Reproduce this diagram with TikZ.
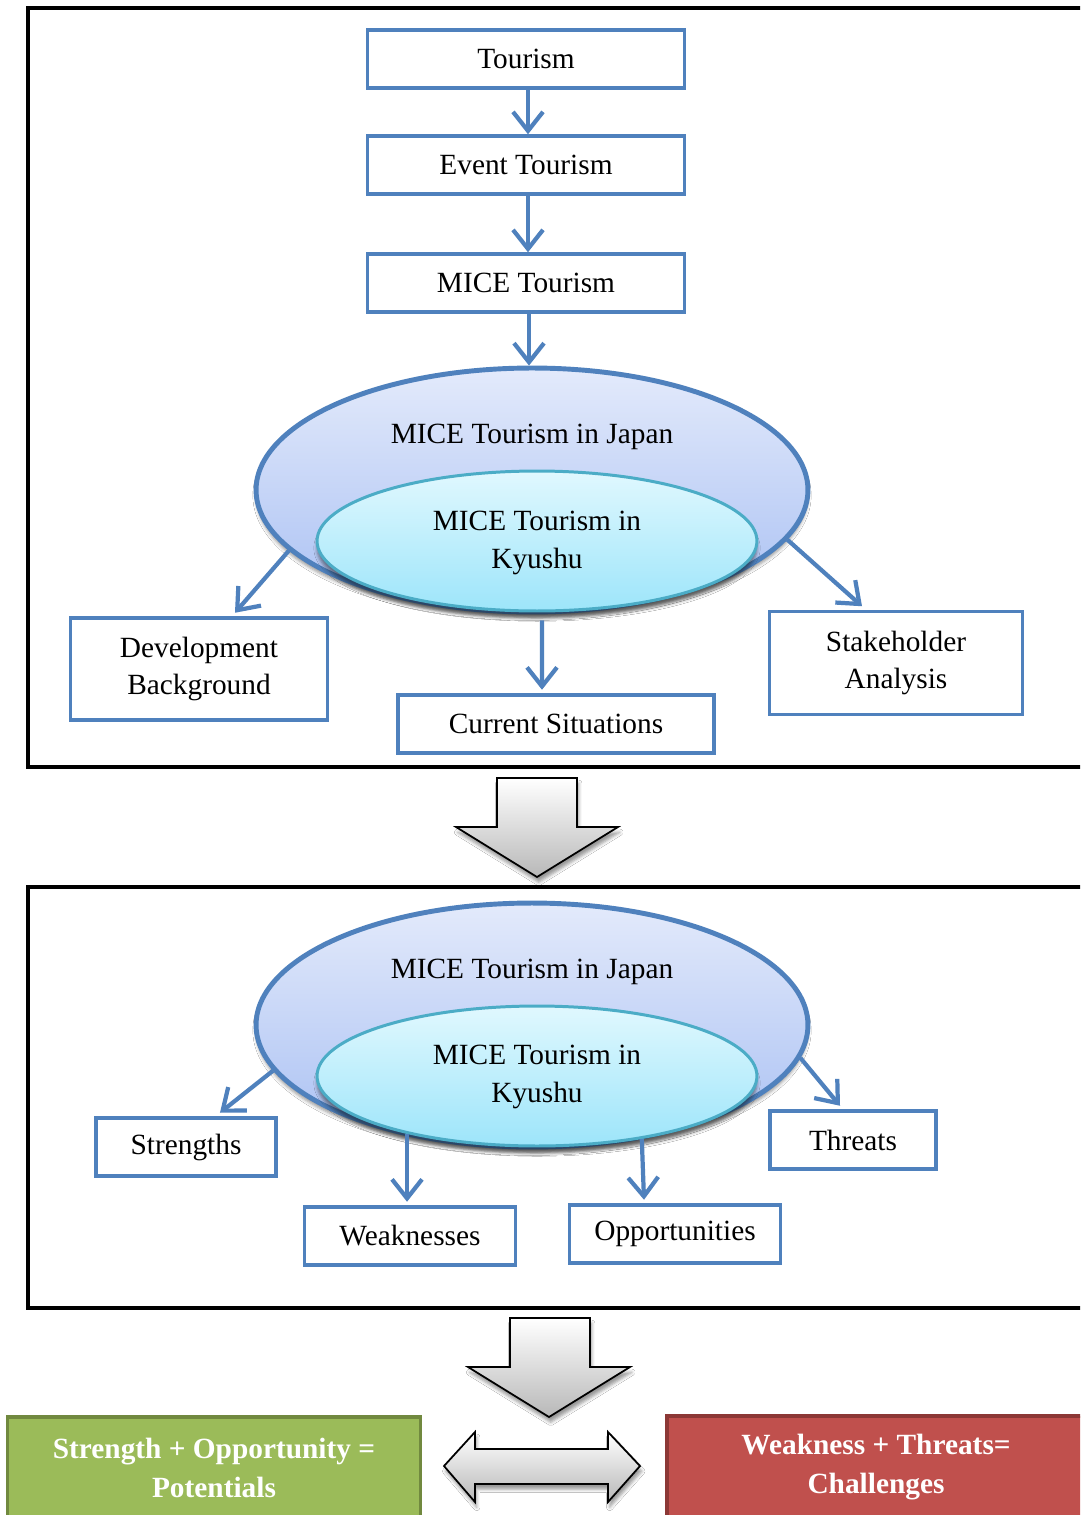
\documentclass[tikz,border=0pt]{standalone}
\usepackage{fontspec}
\setmainfont{Liberation Serif}
\usetikzlibrary{arrows.meta,calc,shadows,shadows.blur,shapes.geometric}
\definecolor{boxblue}{HTML}{4F81BD}
\definecolor{japtop}{HTML}{E3EAFB}
\definecolor{japbot}{HTML}{A9C0F3}
\definecolor{kyuline}{HTML}{4BACC6}
\definecolor{kyutop}{HTML}{E0F8FE}
\definecolor{kyubot}{HTML}{9DE5FA}
\definecolor{arrowgrey}{HTML}{B8B8B8}
\definecolor{potgreen}{HTML}{9BBB59}
\definecolor{potline}{HTML}{71893F}
\definecolor{chalred}{HTML}{C0504D}
\definecolor{challine}{HTML}{8C3836}

\begin{document}
\begin{tikzpicture}[x=0.02cm, y=-0.02cm,
    every node/.style={font=\fontsize{16.7}{21.5}\selectfont, align=center, inner sep=0pt},
    topic/.style={draw=boxblue, line width=2pt, fill=white, minimum width=6.34cm, minimum height=1.16cm},
    link/.style={draw=boxblue, line width=2.4pt, -{Straight Barb[length=3.8mm,width=6mm]}},
    japoval/.style={ellipse, draw=boxblue, line width=2.8pt, top color=japtop, bottom color=japbot,
        minimum width=11.04cm, minimum height=4.88cm, blur shadow={shadow xshift=0pt, shadow yshift=-3pt, shadow opacity=40}},
    kyuoval/.style={ellipse, draw=kyuline, line width=1.7pt, top color=kyutop, bottom color=kyubot,
        minimum width=8.8cm, minimum height=2.8cm, blur shadow={shadow xshift=0pt, shadow yshift=-4pt, shadow opacity=45}},
    panel/.style={draw=black, line width=2.4pt},
    bigarrow/.style={draw=black, line width=1pt, top color=white, bottom color=arrowgrey,
        blur shadow={shadow xshift=1pt, shadow yshift=-3pt, shadow opacity=40}},
    result/.style={line width=1.8pt, text=white, font=\fontsize{16.7}{22}\selectfont\bfseries, minimum height=2.04cm}
]
\clip (0,0) rectangle (1080,1515);
\fill[white] (0,0) rectangle (1080,1515);

% ---- first panel ----
\draw[panel] (28,8) rectangle (1100,767);
\node[topic] (tour) at (526,59) {Tourism};
\node[topic] (event) at (526,165) {Event Tourism};
\node[topic] (mice) at (526,283) {MICE Tourism};
\node[japoval] (jap1) at (532,490) {};
\node[kyuoval] (kyu1) at (537,541) {};
\node (jap1txt) at (532,437) {MICE Tourism in Japan};
\node (kyu1txt) at (537,543) {MICE Tourism in\\Kyushu};
\node[topic, minimum width=5.14cm, minimum height=2.04cm] (dev) at (199,669) {Development\\Background};
\node[topic, minimum width=6.32cm] (cur) at (556,724) {Current Situations};
\node[topic, minimum width=5.06cm, minimum height=2.06cm] (stake) at (896,663) {Stakeholder\\Analysis};
\draw[link] (tour.south -| 528,0) -- (event.north -| 528,0);
\draw[link] (event.south -| 528,0) -- (mice.north -| 528,0);
\draw[link] (mice.south -| 529,0) -- (jap1.north -| 529,0);
\draw[link] (jap1.194) -- ([xshift=0.72cm,yshift=2pt]dev.north);
\draw[link] ([xshift=0.1cm,yshift=-0.16cm]kyu1.south) -- ([xshift=-0.28cm,yshift=2pt]cur.north);
\draw[link] (jap1.-11) -- ([xshift=-0.68cm,yshift=2pt]stake.north);

% ---- arrow ----
\draw[bigarrow] (497,778) -- (577,778) -- (577,827) -- (618,827) -- (537,877) -- (456,827) -- (497,827) -- cycle;

% ---- second panel ----
\draw[panel] (28,887) rectangle (1100,1308);
\node[japoval] (jap2) at (532,1025) {};
\node[kyuoval] (kyu2) at (537,1076) {};
\node (jap2txt) at (532,972) {MICE Tourism in Japan};
\node (kyu2txt) at (537,1077) {MICE Tourism in\\Kyushu};
\node[topic, minimum width=3.6cm] (str) at (186,1147) {Strengths};
\node[topic, minimum width=4.22cm] (wea) at (410,1236) {Weaknesses};
\node[topic, minimum width=4.22cm] (opp) at (675,1234) {Opportunities};
\node[topic, minimum width=3.32cm] (thr) at (853,1140) {Threats};
\draw[link] (jap2.190) -- ([xshift=0.68cm,yshift=2pt]str.north);
\draw[link] (kyu2.-156) -- ([yshift=2pt]kyu2.-156 |- wea.north);
\draw[link] (kyu2.-31) -- ([xshift=-0.62cm,yshift=2pt]opp.north);
\draw[link] (jap2.-7) -- ([xshift=-0.26cm,yshift=2pt]thr.north);

% ---- arrow ----
\draw[bigarrow] (510,1318) -- (590,1318) -- (590,1367) -- (630,1367) -- (549,1417) -- (468,1367) -- (510,1367) -- cycle;

% ---- results ----
\node[result, draw=potline, fill=potgreen, minimum width=8.26cm] (pot) at (214,1468) {Strength + Opportunity =\\Potentials};
\node[result, draw=challine, fill=chalred, minimum width=8.36cm] (chal) at (876,1467) {Weakness + Threats=\\Challenges};
\draw[bigarrow] (444,1466) -- (475,1432) -- (475,1449) -- (608,1449) -- (608,1432) -- (640,1466) -- (608,1502) -- (608,1484) -- (475,1484) -- (475,1502) -- cycle;
\end{tikzpicture}
\end{document}
